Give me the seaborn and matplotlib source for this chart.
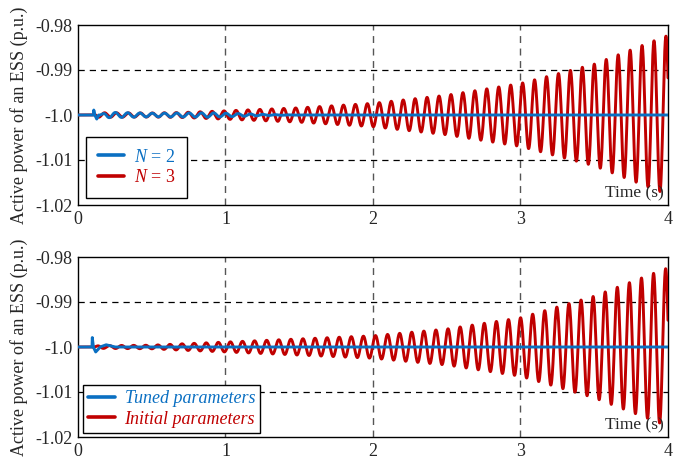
import numpy as np
import pandas as pd
import matplotlib
matplotlib.use("Agg")
import matplotlib.pyplot as plt
import seaborn as sns

# ---------------- data ----------------
# Envelope (amplitude, p.u.) of the growing oscillation, read at these times (s)
top_red_env_t = [0.10, 0.14, 0.5, 0.7, 1.0, 1.5, 2.0, 2.5, 3.0, 3.5, 4.0]
top_red_env_a = [0.0, 0.0005, 0.00045, 0.00055, 0.00093, 0.0016, 0.0026, 0.0044, 0.0070, 0.0113, 0.0177]
top_red_freq = 12.35      # Hz (12 cycles between 3.01 s and 3.99 s)
top_red_peak = 3.986      # time of a positive peak (s)

bot_red_env_t = [0.10, 0.14, 0.5, 0.7, 1.0, 1.5, 2.0, 2.5, 3.0, 3.5, 4.0]
bot_red_env_a = [0.0, 0.0003, 0.0004, 0.0007, 0.0011, 0.0018, 0.0025, 0.0040, 0.0065, 0.0113, 0.0176]
bot_red_freq = 12.2
bot_red_peak = 3.984

# N = 2 (top, blue): start transient knots and small decaying oscillation
top_blue_knot_t = [0.0, 0.105, 0.107, 0.114, 0.127, 0.14]
top_blue_knot_d = [0.0, 0.0, 0.0011, 0.0, -0.0009, 0.0]
top_blue_env_t = [0.14, 0.2, 0.5, 0.9, 1.1, 1.3, 1.5, 4.0]
top_blue_env_a = [0.0, 0.0006, 0.0004, 0.0005, 0.0003, 0.0001, 0.0, 0.0]
top_blue_freq = 12.0
top_blue_peak = 0.17

# Tuned parameters (bottom, blue): start transient only
bot_blue_knot_t = [0.0, 0.095, 0.097, 0.104, 0.12, 0.15, 0.19, 0.25, 4.0]
bot_blue_knot_d = [0.0, 0.0, 0.0021, 0.0, -0.0011, 0.0, 0.0005, 0.0, 0.0]

base = -1.0
y_ticks = [-0.98, -0.99, -1.0, -1.01, -1.02]
y_tick_labels = ["-0.98", "-0.99", "-1.0", "-1.01", "-1.02"]
x_ticks = [0, 1, 2, 3, 4]
top_labels = [r"$N$ = 2", r"$N$ = 3"]
bot_labels = ["Tuned parameters", "Initial parameters"]

# ---------------- build series ----------------
t = np.linspace(0, 4, 8001)

def osc(env_t, env_a, f, tp):
    a = np.interp(t, env_t, env_a, left=0.0)
    return a * np.cos(2 * np.pi * f * (t - tp))

top_red = base + osc(top_red_env_t, top_red_env_a, top_red_freq, top_red_peak)
bot_red = base + osc(bot_red_env_t, bot_red_env_a, bot_red_freq, bot_red_peak)
top_blue = (base + np.interp(t, top_blue_knot_t, top_blue_knot_d, right=0.0)
            + osc(top_blue_env_t, top_blue_env_a, top_blue_freq, top_blue_peak))
bot_blue = base + np.interp(t, bot_blue_knot_t, bot_blue_knot_d)

# ---------------- style ----------------
sns.set_theme(style="white")
plt.rcParams["font.family"] = ["Liberation Serif", "DejaVu Serif"]
plt.rcParams["mathtext.fontset"] = "custom"
plt.rcParams["mathtext.rm"] = "Liberation Serif"
plt.rcParams["mathtext.it"] = "Liberation Serif:italic"

RED = "#C00000"
BLUE = "#0A6FC2"

fig = plt.figure(figsize=(6.83, 4.59), dpi=100)
ax1 = fig.add_axes([78 / 683, 1 - 205 / 459, 590 / 683, 180 / 459])
ax2 = fig.add_axes([78 / 683, 1 - 437 / 459, 590 / 683, 180 / 459])

def draw(ax, blue, red, labels, italic_all, leg_anchor, bpad):
    sns.lineplot(x=t, y=red, ax=ax, color=RED, lw=2.1, label=labels[1], zorder=3)
    sns.lineplot(x=t, y=blue, ax=ax, color=BLUE, lw=2.1, label=labels[0], zorder=4)
    ax.set_xlim(0, 4)
    ax.set_ylim(-1.02, -0.98)
    ax.set_yticks(y_ticks)
    ax.set_yticklabels(y_tick_labels)
    ax.set_xticks(x_ticks)
    ax.set_xticklabels([str(v) for v in x_ticks])
    ax.tick_params(labelsize=13, direction="in", length=0, pad=4)
    for v in [1, 2, 3]:
        ax.axvline(v, color="#555555", ls=(0, (5, 4)), lw=1.0, zorder=1)
    for v in [-0.99, -1.01]:
        ax.axhline(v, color="black", ls=(0, (5, 4)), lw=0.9, zorder=1)
    for s in ax.spines.values():
        s.set_color("black")
        s.set_linewidth(1.0)
    ax.set_ylabel("Active power of an ESS (p.u.)", fontsize=13, labelpad=5)
    ax.set_xlabel("")
    ax.text(0.992, 0.02, "Time (s)", transform=ax.transAxes, ha="right", va="bottom",
            fontsize=12.5, zorder=6)
    h, l = ax.get_legend_handles_labels()
    order = [l.index(labels[0]), l.index(labels[1])]
    leg = ax.legend([h[i] for i in order], [l[i] for i in order], loc="lower left",
                    bbox_to_anchor=leg_anchor, borderaxespad=0, fontsize=13,
                    frameon=True, fancybox=False, edgecolor="black", framealpha=1,
                    handlelength=1.45, handletextpad=0.55, borderpad=bpad, labelspacing=0.2)
    leg.get_frame().set_linewidth(1.0)
    leg.set_zorder(7)
    for txt, c in zip(leg.get_texts(), [BLUE, RED]):
        txt.set_color(c)
        if italic_all:
            txt.set_style("italic")
    for ln in leg.get_lines():
        ln.set_linewidth(2.6)

draw(ax1, top_blue, top_red, top_labels, False, (8 / 590, 7 / 180), 0.65)
draw(ax2, bot_blue, bot_red, bot_labels, True, (5 / 590, 4 / 180), 0.3)

fig.savefig("out.png", dpi=100)
